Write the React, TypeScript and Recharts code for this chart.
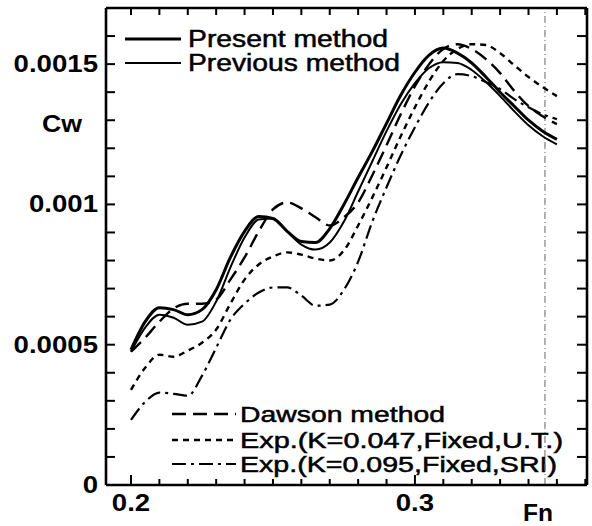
import { Customized, Line, LineChart, ReferenceLine, XAxis, YAxis } from "recharts";

// Froude number samples (x) and wave-making resistance coefficient Cw (y)
const FN = [
  0.2, 0.205, 0.21, 0.215, 0.22, 0.225, 0.23, 0.235, 0.24, 0.245, 0.25, 0.255, 0.26, 0.265, 0.27,
  0.275, 0.28, 0.285, 0.29, 0.295, 0.3, 0.305, 0.31, 0.315, 0.32, 0.325, 0.33, 0.335, 0.34, 0.345,
  0.35,
];

const PRESENT = [
  0.000482, 0.000582, 0.000632, 0.000625, 0.000607, 0.000625, 0.000696, 0.000811, 0.000904,
  0.000957, 0.00095, 0.000904, 0.000868, 0.000864, 0.000914, 0.001, 0.001096, 0.001189, 0.001289,
  0.001389, 0.001471, 0.001532, 0.001557, 0.001539, 0.001504, 0.001454, 0.0014, 0.00135, 0.0013,
  0.001261, 0.001232,
];

const PREVIOUS = [
  0.000475, 0.000561, 0.000607, 0.000596, 0.000571, 0.000582, 0.000654, 0.000775, 0.000882,
  0.000946, 0.00095, 0.000904, 0.000857, 0.000839, 0.000864, 0.000939, 0.001046, 0.001154,
  0.001261, 0.001357, 0.001432, 0.001486, 0.001507, 0.001504, 0.001479, 0.001436, 0.001386,
  0.001332, 0.001282, 0.001243, 0.001214,
];

const DAWSON = [
  0.000475, 0.000525, 0.000582, 0.000629, 0.000646, 0.000646, 0.000661, 0.000732, 0.000811,
  0.000904, 0.000982, 0.001007, 0.000986, 0.000954, 0.000925, 0.000954, 0.001007, 0.001104,
  0.001211, 0.001321, 0.001421, 0.0015, 0.001554, 0.001571, 0.001554, 0.001518, 0.001468,
  0.001404, 0.00135, 0.001314, 0.001286,
];

const EXP_UT = [
  0.000339, 0.000418, 0.000464, 0.000457, 0.000479, 0.000507, 0.000554, 0.000646, 0.000732,
  0.000786, 0.000814, 0.000829, 0.000821, 0.000807, 0.0008, 0.000836, 0.000925, 0.001025,
  0.001132, 0.001243, 0.001346, 0.001439, 0.001511, 0.001554, 0.001571, 0.001568, 0.001539,
  0.001496, 0.001454, 0.001418, 0.001386,
];

const EXP_SRI = [
  0.000232, 0.000296, 0.000329, 0.000325, 0.000318, 0.000389, 0.000489, 0.000589, 0.000646,
  0.000686, 0.000704, 0.000704, 0.000675, 0.000639, 0.000643, 0.000696, 0.000796, 0.000939,
  0.001061, 0.001175, 0.001275, 0.001364, 0.001432, 0.001464, 0.001457, 0.001436, 0.001411,
  0.001375, 0.001346, 0.001321, 0.001304,
];

const X_TICKS = [
  0.2, 0.21, 0.22, 0.23, 0.24, 0.25, 0.26, 0.27, 0.28, 0.29, 0.3, 0.31, 0.32, 0.33, 0.34, 0.35, 0.36,
];
const X_LABELS = [0.2, 0.3];
const Y_TICKS = [
  0, 0.0001, 0.0002, 0.0003, 0.0004, 0.0005, 0.0006, 0.0007, 0.0008, 0.0009, 0.001, 0.0011,
  0.0012, 0.0013, 0.0014, 0.0015, 0.0016,
];
const Y_LABELS = [0, 0.0005, 0.001, 0.0015];

const data = FN.map((fn, i) => ({
  fn,
  present: PRESENT[i],
  previous: PREVIOUS[i],
  dawson: DAWSON[i],
  expUT: EXP_UT[i],
  expSRI: EXP_SRI[i],
}));

const FONT = "'Liberation Sans', Arial, Helvetica, sans-serif";
const has = (arr: number[], v: number) => arr.some((a) => Math.abs(a - v) < 1e-9);
// scanned numbers are a little wider than the font: digits 0.556em, '.' 0.278em
const numWidth = (s: string, fs: number) =>
  s.split("").reduce((w, c) => w + (c === "." ? 0.278 : 0.556), 0) * fs * 1.2;

const styles = {
  present: { width: 3, dash: undefined as string | undefined },
  previous: { width: 2, dash: undefined as string | undefined },
  dawson: { width: 2.4, dash: "14 7" },
  expUT: { width: 2.4, dash: "6 5" },
  expSRI: { width: 2.2, dash: "14 5 3 5" },
};

const TOP_LEGEND = [
  { key: "present", label: "Present method", y: 39, len: 200 },
  { key: "previous", label: "Previous method", y: 63, len: 212 },
] as const;

const BOTTOM_LEGEND = [
  { key: "dawson", label: "Dawson method", y: 414, len: 205 },
  { key: "expUT", label: "Exp.(K=0.047,Fixed,U.T.)", y: 440, len: 323 },
  { key: "expSRI", label: "Exp.(K=0.095,Fixed,SRI)", y: 464, len: 317 },
] as const;

function BottomTick(props: any) {
  const { x, y, payload } = props;
  const major = has(X_LABELS, payload.value);
  const s = String(payload.value);
  return (
    <g>
      <line x1={x} x2={x} y1={y} y2={y - (major ? 10 : 6)} stroke="#000" strokeWidth={2} />
      {major && (
        <text
          x={x}
          y={y + 26}
          textAnchor="middle"
          fontFamily={FONT}
          fontSize={23}
          fontWeight="bold"
          fill="#000"
          textLength={numWidth(s, 23)}
          lengthAdjust="spacingAndGlyphs"
        >
          {s}
        </text>
      )}
    </g>
  );
}

function TopTick(props: any) {
  const { x, y } = props;
  return <line x1={x} x2={x} y1={y} y2={y + 7} stroke="#000" strokeWidth={2} />;
}

function LeftTick(props: any) {
  const { x, y, payload } = props;
  const labelled = has(Y_LABELS, payload.value);
  const s = String(payload.value);
  return (
    <g>
      {payload.value > 0 && <line x1={x} x2={x + 9} y1={y} y2={y} stroke="#000" strokeWidth={2} />}
      {labelled && (
        <text
          x={x - 8}
          y={y + 8}
          textAnchor="end"
          fontFamily={FONT}
          fontSize={23}
          fontWeight="bold"
          fill="#000"
          textLength={numWidth(s, 23)}
          lengthAdjust="spacingAndGlyphs"
        >
          {s}
        </text>
      )}
    </g>
  );
}

function RightTick(props: any) {
  const { x, y, payload } = props;
  if (payload.value <= 0) return <g />;
  return <line x1={x} x2={x - 10} y1={y} y2={y} stroke="#000" strokeWidth={2} />;
}

function Annotations() {
  const entry = (
    key: keyof typeof styles,
    label: string,
    y: number,
    len: number,
    x0: number,
    x1: number,
    tx: number,
    fs: number,
  ) => (
    <g key={key}>
      <line
        x1={x0}
        x2={x1}
        y1={y}
        y2={y}
        stroke="#000"
        strokeWidth={styles[key].width}
        strokeDasharray={styles[key].dash}
      />
      <text
        x={tx}
        y={y + fs * 0.36}
        fontFamily={FONT}
        fontSize={fs}
        fill="#000"
        stroke="#000"
        strokeWidth={0.5}
        textLength={len}
        lengthAdjust="spacingAndGlyphs"
      >
        {label}
      </text>
    </g>
  );
  return (
    <g>
      {TOP_LEGEND.map((d) => entry(d.key, d.label, d.y, d.len, 125, 181, 188, 23))}
      {BOTTOM_LEGEND.map((d) => entry(d.key, d.label, d.y, d.len, 172, 236, 240, 22))}
      <text
        x={42}
        y={132}
        fontFamily={FONT}
        fontSize={23}
        fontWeight="bold"
        fill="#000"
        textLength={40}
        lengthAdjust="spacingAndGlyphs"
      >
        Cw
      </text>
      <text
        x={523}
        y={521}
        fontFamily={FONT}
        fontSize={23}
        fontWeight="bold"
        fill="#000"
        textLength={30}
        lengthAdjust="spacingAndGlyphs"
      >
        Fn
      </text>
    </g>
  );
}

const axisLine = { stroke: "#000", strokeWidth: 2.6 };

export default function App() {
  return (
    <div style={{ position: "absolute", left: 0, top: 0, background: "#fff" }}>
      <LineChart
        width={592}
        height={526}
        data={data}
        margin={{ top: 7, right: 4, bottom: 40, left: 105 }}
      >
        <XAxis
          dataKey="fn"
          type="number"
          domain={[0.1912, 0.3606]}
          ticks={X_TICKS}
          interval={0}
          height={1}
          tickSize={0}
          tickMargin={0}
          tickLine={false}
          tick={<BottomTick />}
          axisLine={axisLine}
          allowDataOverflow
        />
        <XAxis
          xAxisId="top"
          orientation="top"
          dataKey="fn"
          type="number"
          domain={[0.1912, 0.3606]}
          ticks={X_TICKS}
          interval={0}
          height={1}
          tickSize={0}
          tickMargin={0}
          tickLine={false}
          tick={<TopTick />}
          axisLine={axisLine}
          allowDataOverflow
        />
        <YAxis
          type="number"
          domain={[0, 0.0017]}
          ticks={Y_TICKS}
          interval={0}
          width={1}
          tickSize={0}
          tickMargin={0}
          tickLine={false}
          tick={<LeftTick />}
          axisLine={axisLine}
          allowDataOverflow
        />
        <YAxis
          yAxisId="r"
          orientation="right"
          type="number"
          domain={[0, 0.0017]}
          ticks={Y_TICKS}
          interval={0}
          width={1}
          tickSize={0}
          tickMargin={0}
          tickLine={false}
          tick={<RightTick />}
          axisLine={axisLine}
          allowDataOverflow
        />
        <ReferenceLine x={0.3458} stroke="#666" strokeWidth={1} strokeDasharray="7 3 1 3" />
        <Line
          type="monotone"
          dataKey="present"
          stroke="#000"
          strokeWidth={styles.present.width}
          dot={false}
          isAnimationActive={false}
        />
        <Line
          type="monotone"
          dataKey="previous"
          stroke="#000"
          strokeWidth={styles.previous.width}
          dot={false}
          isAnimationActive={false}
        />
        <Line
          type="monotone"
          dataKey="dawson"
          stroke="#000"
          strokeWidth={styles.dawson.width}
          strokeDasharray={styles.dawson.dash}
          dot={false}
          isAnimationActive={false}
        />
        <Line
          type="monotone"
          dataKey="expUT"
          stroke="#000"
          strokeWidth={styles.expUT.width}
          strokeDasharray={styles.expUT.dash}
          dot={false}
          isAnimationActive={false}
        />
        <Line
          type="monotone"
          dataKey="expSRI"
          stroke="#000"
          strokeWidth={styles.expSRI.width}
          strokeDasharray={styles.expSRI.dash}
          dot={false}
          isAnimationActive={false}
        />
        <Customized component={Annotations} />
      </LineChart>
    </div>
  );
}
